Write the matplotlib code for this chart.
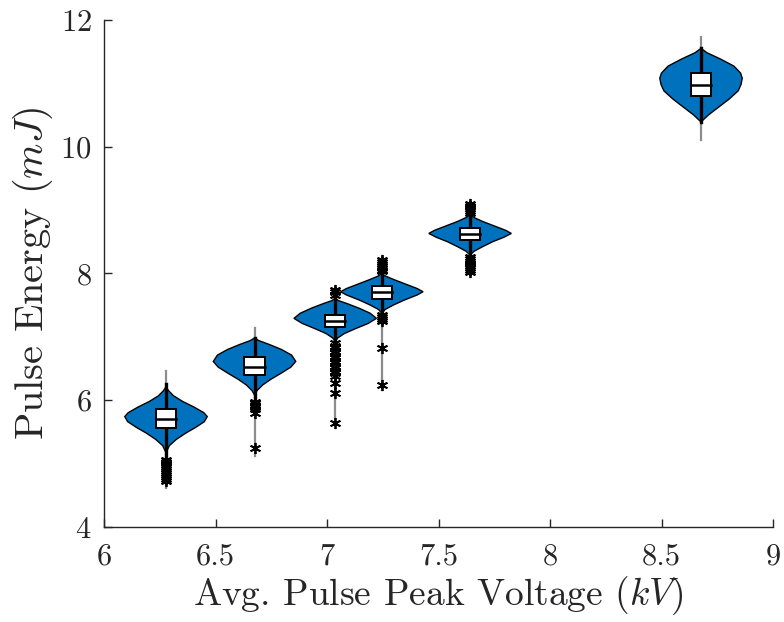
import numpy as np
import matplotlib.pyplot as plt
import matplotlib.patheffects as pe

plt.rcParams['font.family'] = 'serif'
plt.rcParams['font.serif'] = ['cmr10']
plt.rcParams['mathtext.fontset'] = 'cm'
plt.rcParams['axes.formatter.use_mathtext'] = True

# group positions (kV)
positions = [6.277, 6.674, 7.036, 7.245, 7.641, 8.677]

# box statistics (mJ)
q1 = [5.56, 6.40, 7.16, 7.59, 8.53, 10.80]
med = [5.70, 6.53, 7.25, 7.70, 8.62, 10.98]
q3 = [5.86, 6.68, 7.34, 7.80, 8.71, 11.16]
whis_lo = [5.09, 6.00, 6.95, 7.37, 8.29, 10.39]
whis_hi = [6.25, 6.98, 7.62, 8.00, 8.92, 11.55]
data_min = [4.62, 5.11, 5.60, 6.16, 8.00, 10.10]
data_max = [6.46, 7.13, 7.76, 8.26, 9.13, 11.73]

outliers = [
    [5.06, 5.03, 5.00, 4.97, 4.94, 4.91, 4.88, 4.85, 4.82, 4.79, 4.76, 4.73],
    [5.97, 5.95, 5.93, 5.91, 5.89, 5.86, 5.79, 5.24],
    [7.66, 7.70, 7.74, 6.90, 6.86, 6.82, 6.78, 6.74, 6.70, 6.66, 6.62,
     6.58, 6.54, 6.50, 6.46, 6.42, 6.38, 6.27, 6.11, 5.64],
    [8.03, 8.06, 8.09, 8.12, 8.15, 8.18, 8.21, 7.34, 7.31, 7.28, 7.25,
     6.82, 6.24],
    [8.95, 8.98, 9.01, 9.04, 9.07, 9.10, 8.26, 8.23, 8.20, 8.17, 8.14,
     8.11, 8.08, 8.05, 8.02],
    [],
]

# violin outlines: energy levels and relative half-widths
violin_e = [
    [6.21, 6.15, 6.07, 5.98, 5.89, 5.80, 5.74, 5.66, 5.57, 5.48, 5.38, 5.28, 5.17],
    [6.98, 6.94, 6.88, 6.80, 6.71, 6.61, 6.52, 6.43, 6.33, 6.24, 6.15, 6.08],
    [7.61, 7.57, 7.52, 7.45, 7.37, 7.29, 7.21, 7.13, 7.05, 6.98, 6.92],
    [8.00, 7.96, 7.90, 7.83, 7.76, 7.71, 7.66, 7.58, 7.50, 7.43, 7.37],
    [8.92, 8.88, 8.82, 8.75, 8.68, 8.63, 8.57, 8.50, 8.42, 8.35, 8.29],
    [11.55, 11.48, 11.38, 11.27, 11.16, 11.08, 10.98, 10.88, 10.75, 10.62,
     10.50, 10.39],
]
violin_w = [
    [0, 0.06, 0.18, 0.40, 0.68, 0.92, 1.0, 0.93, 0.72, 0.48, 0.25, 0.08, 0],
    [0, 0.10, 0.35, 0.65, 0.90, 1.0, 0.88, 0.66, 0.40, 0.20, 0.06, 0],
    [0, 0.08, 0.30, 0.58, 0.85, 1.0, 0.80, 0.50, 0.22, 0.06, 0],
    [0, 0.08, 0.30, 0.58, 0.86, 1.0, 0.86, 0.55, 0.28, 0.08, 0],
    [0, 0.10, 0.30, 0.58, 0.86, 1.0, 0.82, 0.55, 0.30, 0.10, 0],
    [0, 0.15, 0.48, 0.80, 0.96, 1.0, 0.97, 0.90, 0.68, 0.42, 0.18, 0],
]

half_width = 0.185
box_half = 0.046
violin_color = '#0072BD'
asterisk = (6, 2, 0)

fig = plt.figure(figsize=(7.84, 6.22), dpi=100)
ax = fig.add_axes([0.133, 0.153, 0.853, 0.815])

for i, x0 in enumerate(positions):
    e = np.array(violin_e[i])
    w = np.array(violin_w[i]) * half_width
    xs = np.concatenate([x0 + w, (x0 - w)[::-1]])
    ys = np.concatenate([e, e[::-1]])
    poly = ax.fill(xs, ys, facecolor=violin_color, edgecolor='black',
                   linewidth=1.0, zorder=2 + i * 0.1)[0]
    poly.set_path_effects([pe.Stroke(linewidth=3.5, foreground='white'),
                           pe.Normal()])
    z = 3 + i * 0.1
    # full data range
    ax.plot([x0, x0], [data_min[i], data_max[i]], color='#8c8c8c',
            linewidth=1.6, zorder=z)
    # whiskers
    ax.plot([x0, x0], [whis_lo[i], whis_hi[i]], color='black',
            linewidth=2.4, zorder=z + 0.01)
    # box
    ax.fill([x0 - box_half, x0 + box_half, x0 + box_half, x0 - box_half],
            [q1[i], q1[i], q3[i], q3[i]], facecolor='white',
            edgecolor='black', linewidth=1.4, zorder=z + 0.02)
    ax.plot([x0 - box_half, x0 + box_half], [med[i], med[i]],
            color='black', linewidth=1.8, zorder=z + 0.03)
    if outliers[i]:
        ax.plot([x0] * len(outliers[i]), outliers[i], linestyle='none',
                marker=asterisk, markersize=8, markeredgewidth=1.3,
                color='black', zorder=z + 0.04)

ax.set_xlim(6, 9)
ax.set_ylim(4, 12)
ax.set_xticks([6, 6.5, 7, 7.5, 8, 8.5, 9])
ax.set_xticklabels(['6', '6.5', '7', '7.5', '8', '8.5', '9'])
ax.set_yticks([4, 6, 8, 10, 12])
ax.tick_params(direction='in', length=6, width=1, labelsize=22,
               colors='#262626')
ax.tick_params(axis='x', pad=12)
ax.tick_params(axis='y', pad=9)
for s in ['top', 'right']:
    ax.spines[s].set_visible(False)
for s in ['left', 'bottom']:
    ax.spines[s].set_color('#262626')
    ax.spines[s].set_linewidth(1)

ax.set_xlabel(r'Avg. Pulse Peak Voltage $(kV)$', fontsize=27,
              color='#262626', labelpad=2)
ax.set_ylabel(r'Pulse Energy $(mJ)$', fontsize=29, color='#262626',
              labelpad=4)

fig.savefig('out.png', dpi=100)
